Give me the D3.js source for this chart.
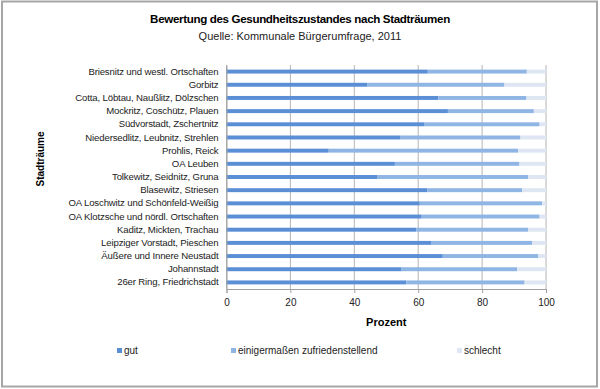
<!DOCTYPE html>
<html>
<head>
<meta charset="utf-8">
<script src="https://cdn.jsdelivr.net/npm/d3@7/dist/d3.min.js"></script>
<style>
  body { margin: 0; background: #fff; }
  svg { font-family: "Liberation Sans", Arial, sans-serif; }
</style>
</head>
<body>
<div id="chart"></div>
<script>
const categories = [
    "Briesnitz und westl. Ortschaften",
    "Gorbitz",
    "Cotta, Löbtau, Naußlitz, Dölzschen",
    "Mockritz, Coschütz, Plauen",
    "Südvorstadt, Zschertnitz",
    "Niedersedlitz, Leubnitz, Strehlen",
    "Prohlis, Reick",
    "OA Leuben",
    "Tolkewitz, Seidnitz, Gruna",
    "Blasewitz, Striesen",
    "OA Loschwitz und Schönfeld-Weißig",
    "OA Klotzsche und nördl. Ortschaften",
    "Kaditz, Mickten, Trachau",
    "Leipziger Vorstadt, Pieschen",
    "Äußere und Innere Neustadt",
    "Johannstadt",
    "26er Ring, Friedrichstadt"
];
const gut = [63, 44, 66.3, 69.3, 62, 54.5, 32, 52.7, 47.3, 62.9, 60.5, 61.1, 59.4, 64, 67.7, 54.8, 56.3];
const mittel = [31, 43, 27.6, 26.9, 36, 37.5, 59.3, 39, 47.1, 29.6, 38.3, 36.9, 35, 31.7, 29.9, 36.2, 37];
const schlecht = [6, 13, 6.1, 3.8, 2, 8, 8.7, 8.3, 5.6, 7.5, 1.2, 2, 5.6, 4.3, 2.4, 9, 6.7];
const seriesNames = ["gut", "einigermaßen zufriedenstellend", "schlecht"];
const xTicks = [0, 20, 40, 60, 80, 100];

const colors = ["#5a8fd6", "#8fb5e4", "#dde6f2"];

const width = 600, height = 389;
const margin = { top: 65, right: 54, bottom: 100, left: 226.5 };

const svg = d3.select("#chart").append("svg")
    .attr("width", width)
    .attr("height", height);

// frame
svg.append("rect")
    .attr("x", 2).attr("y", 1.5)
    .attr("width", 595).attr("height", 385)
    .attr("fill", "#fff")
    .attr("stroke", "#a6a6a6")
    .attr("stroke-width", 2);

const rows = categories.map((c, i) => ({ cat: c, gut: gut[i], mittel: mittel[i], schlecht: schlecht[i] }));
const stacked = d3.stack().keys(["gut", "mittel", "schlecht"])(rows);

const x = d3.scaleLinear()
    .domain([0, 100])
    .range([margin.left, width - margin.right]);

const y = d3.scaleBand()
    .domain(categories)
    .range([margin.top, height - margin.bottom])
    .paddingInner(0.7)
    .paddingOuter(0.35);

// gridlines
svg.append("g")
    .selectAll("line")
    .data(xTicks)
    .enter()
    .append("line")
    .attr("x1", d => x(d)).attr("x2", d => x(d))
    .attr("y1", margin.top).attr("y2", height - margin.bottom)
    .attr("stroke", "#b4b4b4")
    .attr("stroke-width", 1);

svg.append("g")
    .selectAll("g")
    .data(stacked)
    .enter()
    .append("g")
    .attr("fill", (d, i) => colors[i])
    .selectAll("rect")
    .data(d => d)
    .enter()
    .append("rect")
    .attr("x", d => x(d[0]))
    .attr("width", d => x(d[1]) - x(d[0]))
    .attr("y", d => y(d.data.cat))
    .attr("height", y.bandwidth());

// x axis
const xAxis = svg.append("g")
    .attr("transform", `translate(0,${height - margin.bottom})`)
    .call(d3.axisBottom(x).tickValues(xTicks).tickSize(4).tickPadding(6));
xAxis.select(".domain").attr("stroke", "#a0a0a0");
xAxis.selectAll(".tick line").attr("stroke", "#a0a0a0");
xAxis.selectAll("text").style("font-size", "10px").attr("fill", "#222");

// y axis
const yAxis = svg.append("g")
    .attr("transform", `translate(${margin.left},0)`)
    .call(d3.axisLeft(y).tickSize(0).tickPadding(8));
yAxis.select(".domain").attr("stroke", "#a0a0a0");
yAxis.selectAll("text")
    .style("font-size", "9.6px")
    .style("letter-spacing", "-0.15px")
    .attr("fill", "#222");

// titles
svg.append("text")
    .attr("x", 300).attr("y", 23)
    .attr("text-anchor", "middle")
    .style("font-size", "11.6px")
    .style("letter-spacing", "-0.35px")
    .style("font-weight", "bold")
    .text("Bewertung des Gesundheitszustandes nach Stadträumen");

svg.append("text")
    .attr("x", 300).attr("y", 40)
    .attr("text-anchor", "middle")
    .style("font-size", "11px")
    .attr("fill", "#222")
    .text("Quelle: Kommunale Bürgerumfrage, 2011");

svg.append("text")
    .attr("x", (x(0) + x(100)) / 2).attr("y", 326)
    .attr("text-anchor", "middle")
    .style("font-size", "11px")
    .style("font-weight", "bold")
    .text("Prozent");

svg.append("text")
    .attr("transform", "translate(43.5,159) rotate(-90)")
    .attr("text-anchor", "middle")
    .style("font-size", "10px")
    .style("font-weight", "bold")
    .text("Stadträume");

// legend
const legendX = [117, 231, 457];
const legend = svg.append("g")
    .selectAll("g")
    .data(seriesNames)
    .enter()
    .append("g")
    .attr("transform", (d, i) => `translate(${legendX[i]},348)`);
legend.append("rect")
    .attr("width", 5).attr("height", 5)
    .attr("fill", (d, i) => colors[i]);
legend.append("text")
    .attr("x", 7).attr("y", 6)
    .style("font-size", "10px")
    .attr("fill", "#222")
    .text(d => d);
</script>
</body>
</html>
